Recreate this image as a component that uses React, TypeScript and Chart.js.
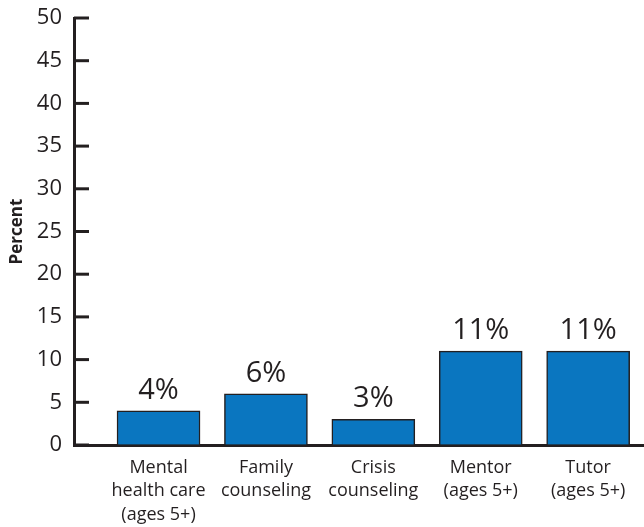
import React, { useEffect, useRef } from "react";
import { Chart, registerables } from "chart.js";

Chart.register(...registerables);

const categories: string[][] = [
  ["Mental", "health care", "(ages 5+)"],
  ["Family", "counseling"],
  ["Crisis", "counseling"],
  ["Mentor", "(ages 5+)"],
  ["Tutor", "(ages 5+)"],
];
const values: number[] = [4, 6, 3, 11, 11];
const yTicks: number[] = [0, 5, 10, 15, 20, 25, 30, 35, 40, 45, 50];
const yTitle = "Percent";

const INK = "#231f20";
const BAR = "#0a76c0";

const valueLabelPlugin = {
  id: "valueLabels",
  afterDatasetsDraw(chart: any) {
    const ctx = chart.ctx;
    const meta = chart.getDatasetMeta(0);
    ctx.save();
    ctx.fillStyle = INK;
    ctx.font = "29px 'Open Sans'";
    ctx.textAlign = "center";
    ctx.textBaseline = "alphabetic";
    meta.data.forEach((el: any, i: number) => {
      ctx.fillText(values[i] + "%", el.x, el.y - 12);
    });
    ctx.restore();
  },
};

const innerTicksPlugin = {
  id: "innerTicks",
  afterDraw(chart: any) {
    const ctx = chart.ctx;
    const ys = chart.scales.y;
    const left = chart.chartArea.left;
    ctx.save();
    ctx.strokeStyle = INK;
    ctx.lineWidth = 3;
    yTicks.forEach((t) => {
      const py = ys.getPixelForValue(t);
      ctx.beginPath();
      ctx.moveTo(left, py);
      ctx.lineTo(left + 15, py);
      ctx.stroke();
    });
    ctx.restore();
  },
};

export default function App() {
  const ref = useRef<HTMLCanvasElement | null>(null);
  useEffect(() => {
    document.body.style.margin = "0";
    const canvas = ref.current;
    if (!canvas) return;
    const chart = new Chart(canvas, {
      type: "bar",
      data: {
        datasets: [
          {
            data: values.map((v, i) => ({ x: i, y: v })),
            backgroundColor: BAR,
            borderColor: INK,
            borderWidth: 1.5,
            barThickness: 83,
          },
        ],
      },
      plugins: [valueLabelPlugin, innerTicksPlugin],
      options: {
        responsive: false,
        animation: false,
        layout: { padding: { top: 18, right: 0, left: 0, bottom: 0 } },
        plugins: { legend: { display: false }, tooltip: { enabled: false } },
        scales: {
          x: {
            type: "linear",
            offset: false,
            min: -0.787,
            max: 4.52,
            afterBuildTicks: (scale: any) => {
              scale.ticks = categories.map((_, i) => ({ value: i }));
            },
            afterFit: (scale: any) => {
              scale.height = 82;
              scale.paddingLeft = 0;
              scale.paddingRight = 0;
            },
            grid: { display: true, drawOnChartArea: false, drawTicks: false },
            border: { display: true, color: INK, width: 3 },
            ticks: {
              autoSkip: false,
              maxRotation: 0,
              padding: 11,
              color: INK,
              font: { family: "'Open Sans'", size: 18, lineHeight: 1.3 },
              callback: (v: any) => categories[v as number] ?? "",
            },
          },
          y: {
            min: 0,
            max: 50,
            afterBuildTicks: (scale: any) => {
              scale.ticks = yTicks.map((v) => ({ value: v }));
            },
            afterFit: (scale: any) => {
              scale.width = 74;
              scale.paddingTop = 0;
              scale.paddingBottom = 0;
            },
            grid: { display: true, drawOnChartArea: false, drawTicks: false },
            border: { display: true, color: INK, width: 3 },
            ticks: {
              padding: 12,
              color: INK,
              font: { family: "'Open Sans'", size: 22 },
            },
            title: {
              display: true,
              text: yTitle,
              color: INK,
              padding: { top: 7, bottom: 0 },
              font: { family: "'Open Sans'", size: 17, weight: "bold" },
            },
          },
        },
      },
    });
    return () => chart.destroy();
  }, []);
  return <canvas ref={ref} width={644} height={527} style={{ display: "block" }} />;
}
